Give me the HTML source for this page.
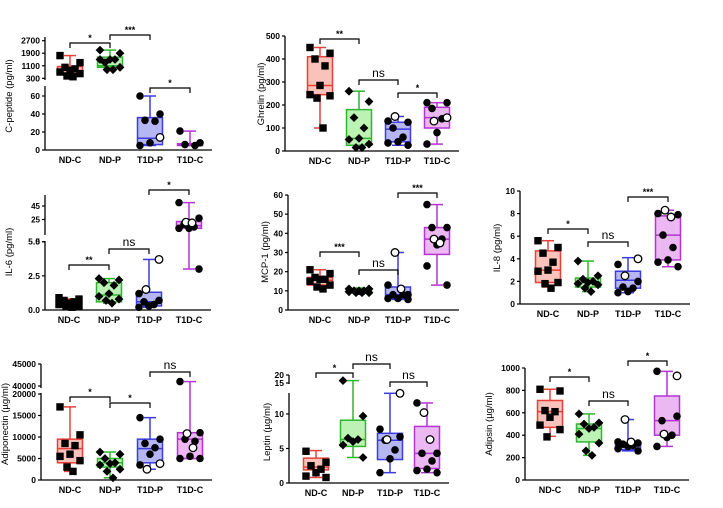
<!DOCTYPE html>
<html><head><meta charset="utf-8"><style>
html,body{margin:0;padding:0;background:#fff;}
svg{display:block;font-family:"Liberation Sans",Arial,sans-serif;}
</style></head><body>
<svg id="fig" width="723" height="508" viewBox="0 0 723 508"></svg>
<script>
const CATS=["ND-C","ND-P","T1D-P","T1D-C"];
// C-peptide
const cpepLo=[400,850,5,5], cpepQ1=[600,1000,6,5], cpepMed=[800,1100,13,6], cpepQ3=[1050,1650,36,7], cpepHi=[1750,2100,60,21];
const cpepPts=[[1750,1300,1000,900,800,700,600,450,400],[2100,1900,1300,1500,1500,1500,1000,850,850],[60,40,33,32,8,5],[21,8,6,5]];
const cpepOpen=[[],[],[14],[]];
// Ghrelin
const ghrLo=[100,15,25,30], ghrQ1=[245,25,40,100], ghrMed=[285,55,95,145], ghrQ3=[410,180,125,190], ghrHi=[450,260,150,210];
const ghrPts=[[450,425,400,370,285,245,240,230,100],[260,215,145,100,55,50,30,15,15],[130,125,100,60,40,35,25],[210,210,185,140,80,30]];
const ghrOpen=[[],[],[150],[145,130]];
// IL-6
const il6Lo=[0.1,0.5,0.2,3], il6Q1=[0.2,0.6,0.3,12], il6Med=[0.5,1.1,0.6,16], il6Q3=[0.7,2.0,1.3,22], il6Hi=[0.8,2.3,3.7,50];
const il6Pts=[[0.9,0.8,0.7,0.6,0.5,0.4,0.3,0.3,0.2],[2.3,2.2,2.0,1.8,1.2,1.0,0.8,0.7,0.5],[1.2,0.7,0.6,0.4,0.3,0.2],[50,27,18,14,12,12,3]];
const il6Open=[[],[],[3.7,1.5],[21,20]];
// MCP-1
const mcpLo=[11,8.5,5.5,13], mcpQ1=[13,9,6,29], mcpMed=[15.5,10,8,37], mcpQ3=[17,11,12,43], mcpHi=[21,11.5,30,55];
const mcpPts=[[21,19,17,16,16,15,13,12,11],[11,11,10,10,10,9.5,9,9,9],[13,8,8,8,6,6,5.5],[55,43,43,37,34,23,13]];
const mcpOpen=[[],[],[30,11],[37,35]];
// IL-8
const il8Lo=[1.5,1.1,1.0,3.3], il8Q1=[1.9,1.5,1.4,3.9], il8Med=[3.0,1.9,2.1,6.1], il8Q3=[4.7,2.3,2.9,7.8], il8Hi=[5.6,3.8,4.1,8.3];
const il8Pts=[[5.6,5.0,4.5,3.7,3.0,2.9,1.9,1.8,1.4],[3.8,2.5,2.2,2.0,1.9,1.8,1.7,1.4,1.1],[3.5,2.0,1.5,1.4,1.1,1.0],[8.0,7.9,6.1,5.0,3.9,3.7,3.3]];
const il8Open=[[],[],[4.0,2.5],[8.3,7.7]];
// Adiponectin
const adiLo=[2000,500,2500,5000], adiQ1=[4000,3000,4000,5000], adiMed=[7300,4000,7300,9500], adiQ3=[9500,5000,9500,11000], adiHi=[17000,6500,14500,41000];
const adiPts=[[17000,10500,8500,8000,6000,5500,4500,3000,2000],[6500,6000,5000,4000,3800,3500,2500,2000,500],[14500,9500,8500,7500,6000,3500],[41000,11000,9500,9000,5500,5000,5000]];
const adiOpen=[[],[],[3800,2500],[10800,7500]];
// Leptin
const lepLo=[0.8,3.7,1.5,1.5], lepQ1=[1.9,5.3,3.4,2.1], lepMed=[2.3,6.3,6.2,4.3], lepQ3=[3.6,9.1,7.2,8.2], lepHi=[4.7,16.5,13,11.6];
const lepPts=[[4.6,3,2.5,2,1.5,1,0.8],[16.5,9.7,6.5,6.3,6.0,5.5,3.7],[7.8,6.7,6.2,4.8,3.5,1.5],[11.6,4.3,4.3,3.2,2.0,1.8,1.5]];
const lepOpen=[[],[],[13,6.3],[10.2,6.3]];
// Adipsin
const adsLo=[390,220,260,300], adsQ1=[470,340,270,400], adsMed=[610,460,310,530], adsQ3=[710,500,330,750], adsHi=[810,590,540,970];
const adsPts=[[810,795,620,610,560,490,450,385],[590,510,500,470,460,410,330,260,220],[340,330,320,310,300,280,260],[970,570,530,400,380,300]];
const adsOpen=[[],[],[540,340],[930,410]];

const COL=[{s:'#e8403a',f:'#f9c2bb'},{s:'#2fb52f',f:'#bdf2b5'},{s:'#3c3ce0',f:'#b6b6f4'},{s:'#b434d4',f:'#ecb8f2'}];
const SHAPE=['square','diamond','circle','circle'];
const svg=document.getElementById('fig');
const NS='http://www.w3.org/2000/svg';
function mk(tag,at,parent){const e=document.createElementNS(NS,tag);for(const k in at)e.setAttribute(k,at[k]);(parent||svg).appendChild(e);return e;}

function panel(cfg,lo,q1,med,q3,hi,pts,open){
  const g=mk('g',{});
  
  
  const segs=cfg.segs;
  function y(v){
    let s=segs[0];
    for(const sg of segs){if(v>=sg.d0&&v<=sg.d1){s=sg;break;} if(v>sg.d1)s=sg;}
    return s.p0+(v-s.d0)/(s.d1-s.d0)*(s.p1-s.p0);
  }
  function x(i){return cfg.x0+i*cfg.step;}
  for(const s of segs){
    const l=mk('line',{x1:cfg.ax,x2:cfg.ax,y1:s.top,y2:s.bot,stroke:'#000','stroke-width':1.3},g);
    
    
    for(const t of s.ticks){
      const ty=y(t);
      mk('line',{x1:cfg.ax-3,x2:cfg.ax,y1:ty,y2:ty,stroke:'#000','stroke-width':1.2},g);
      const tx=mk('text',{x:cfg.ax-5,y:ty+3,'text-anchor':'end','font-size':s.fs||8.5,'font-weight':'bold'},g);
      tx.textContent=(s.fmt?s.fmt(t):t);
      
      
    }
  }
  const base=segs[0].p0;
  const xl=mk('line',{x1:cfg.ax,x2:x(3)+22,y1:base,y2:base,stroke:'#000','stroke-width':1.3},g);
  
  
  const yt=mk('text',{x:0,y:0,transform:`translate(${cfg.tx},${cfg.ty}) rotate(-90)`,'text-anchor':'middle','font-size':9.5},g);
  yt.textContent=cfg.title;
  
  
  const bw=cfg.bw||25;
  for(let i=0;i<4;i++){
    const cx=x(i),c=COL[i];
    mk('line',{x1:cx,x2:cx,y1:y(hi[i]),y2:y(lo[i]),stroke:c.s,'stroke-width':1.5},g);
    mk('line',{x1:cx-6,x2:cx+6,y1:y(hi[i]),y2:y(hi[i]),stroke:c.s,'stroke-width':1.5},g);
    mk('line',{x1:cx-6,x2:cx+6,y1:y(lo[i]),y2:y(lo[i]),stroke:c.s,'stroke-width':1.5},g);
    const b=mk('rect',{x:cx-bw/2,y:y(q3[i]),width:bw,height:Math.max(1,y(q1[i])-y(q3[i])),fill:c.f,stroke:c.s,'stroke-width':1.5},g);
    
    
    mk('line',{x1:cx-bw/2,x2:cx+bw/2,y1:y(med[i]),y2:y(med[i]),stroke:c.s,'stroke-width':1.5},g);
    const offs=[-10,10,-5,5,0,-10,10,-3,3];
    const all=pts[i].map(v=>[v,false]).concat(open[i].map(v=>[v,true]));
    all.forEach((p,k)=>{
      const px=cx+offs[k%offs.length],py=y(p[0]);
      let e;
      if(p[1]) e=mk('circle',{cx:px,cy:py,r:3.8,fill:'#fff',stroke:'#000','stroke-width':1.3},g);
      else if(SHAPE[i]==='square') e=mk('rect',{x:px-3.7,y:py-3.7,width:7.4,height:7.4,fill:'#000'},g);
      else if(SHAPE[i]==='diamond') e=mk('polygon',{points:`${px},${py-4.4} ${px+4.4},${py} ${px},${py+4.4} ${px-4.4},${py}`,fill:'#000'},g);
      else e=mk('circle',{cx:px,cy:py,r:3.8,fill:'#000'},g);
      
      
    });
    const lt=mk('text',{x:cx,y:base+13,'text-anchor':'middle','font-size':9,'font-weight':'bold'},g);
    lt.textContent=CATS[i];
    
    
  }
  for(const br of cfg.br){
    const xa=x(br[0]),xb=x(br[1]),by=br[2];
    const p=mk('path',{d:`M${xa},${by+5}V${by}H${xb}V${by+5}`,fill:'none',stroke:'#000','stroke-width':1.2},g);
    
    
    const ns=br[3]==='ns';
    const t=mk('text',{x:(xa+xb)/2,y:by-(ns?3:2),'text-anchor':'middle','font-size':ns?12:9,'font-weight':ns?'normal':'bold'},g);
    t.textContent=br[3];
    
    
  }
}
const f1=v=>v.toFixed(1);
panel({name:'c-peptide',title:'C-peptide (pg/ml)',ax:45,x0:70,step:40,tx:12,ty:96,
  segs:[{d0:0,d1:60,p0:150,p1:96,top:86,bot:150,ticks:[0,20,40,60]},{d0:300,d1:2700,p0:78.3,p1:40.7,top:37,bot:80,ticks:[300,1100,1900,2700]}],
  br:[[0,1,43,'*'],[1,2,35,'***'],[2,3,88,'*']]},cpepLo,cpepQ1,cpepMed,cpepQ3,cpepHi,cpepPts,cpepOpen);
panel({name:'ghrelin',title:'Ghrelin (pg/ml)',ax:285,x0:320,step:39,tx:264,ty:94,
  segs:[{d0:0,d1:500,p0:151,p1:36,top:36,bot:151,ticks:[0,100,200,300,400,500]}],
  br:[[0,1,39,'**'],[1,2,80,'ns'],[2,3,93,'*']]},ghrLo,ghrQ1,ghrMed,ghrQ3,ghrHi,ghrPts,ghrOpen);
panel({name:'il-6',title:'IL-6 (pg/ml)',ax:45,x0:69,step:40,tx:12,ty:252,
  segs:[{d0:0,d1:5,p0:310,p1:241.7,top:241,bot:310,ticks:[0,2.5,5],fmt:f1},{d0:5,d1:45,p0:233,p1:206,top:195,bot:235,ticks:[5,25,45],fs:8}],
  br:[[0,1,265,'**'],[1,2,249,'ns'],[2,3,190,'*']]},il6Lo,il6Q1,il6Med,il6Q3,il6Hi,il6Pts,il6Open);
panel({name:'mcp-1',title:'MCP-1 (pg/ml)',ax:288,x0:320,step:39,tx:268,ty:252,
  segs:[{d0:0,d1:60,p0:310,p1:195,top:195,bot:310,ticks:[0,10,20,30,40,50,60]}],
  br:[[0,1,252,'***'],[1,2,270,'ns'],[2,3,193,'***']]},mcpLo,mcpQ1,mcpMed,mcpQ3,mcpHi,mcpPts,mcpOpen);
panel({name:'il-8',title:'IL-8 (pg/ml)',ax:520,x0:548,step:40,tx:500,ty:248,
  segs:[{d0:0,d1:10,p0:304,p1:191,top:191,bot:304,ticks:[0,2,4,6,8,10]}],
  br:[[0,1,229,'*'],[1,2,242,'ns'],[2,3,197,'***']]},il8Lo,il8Q1,il8Med,il8Q3,il8Hi,il8Pts,il8Open);
panel({name:'adiponectin',title:'Adiponectin (µg/ml)',ax:41,x0:70,step:40,tx:8,ty:424,
  segs:[{d0:0,d1:20000,p0:480,p1:394,top:393,bot:480,ticks:[0,5000,10000,15000,20000]},{d0:40000,d1:45000,p0:386,p1:364,top:364,bot:388,ticks:[40000,45000]}],
  br:[[0,1,397,'*'],[1,2,403,'*'],[2,3,372,'ns']]},adiLo,adiQ1,adiMed,adiQ3,adiHi,adiPts,adiOpen);
panel({name:'leptin',title:'Leptin (µg/ml)',ax:289,x0:316,step:37,tx:270,ty:432,
  segs:[{d0:0,d1:10,p0:483,p1:414,top:393,bot:483,ticks:[0,5,10]},{d0:15,d1:20,p0:383,p1:375,top:375,bot:384,ticks:[15,20]}],
  br:[[0,1,373,'*'],[1,2,364,'ns'],[2,3,382,'ns']]},lepLo,lepQ1,lepMed,lepQ3,lepHi,lepPts,lepOpen);
panel({name:'adipsin',title:'Adipsin (µg/ml)',ax:525,x0:550,step:39,tx:492,ty:424,
  segs:[{d0:0,d1:1000,p0:480,p1:368,top:368,bot:480,ticks:[0,200,400,600,800,1000]}],
  br:[[0,1,377,'*'],[1,2,401,'ns'],[2,3,361,'*']]},adsLo,adsQ1,adsMed,adsQ3,adsHi,adsPts,adsOpen);
</script>
</body></html>
